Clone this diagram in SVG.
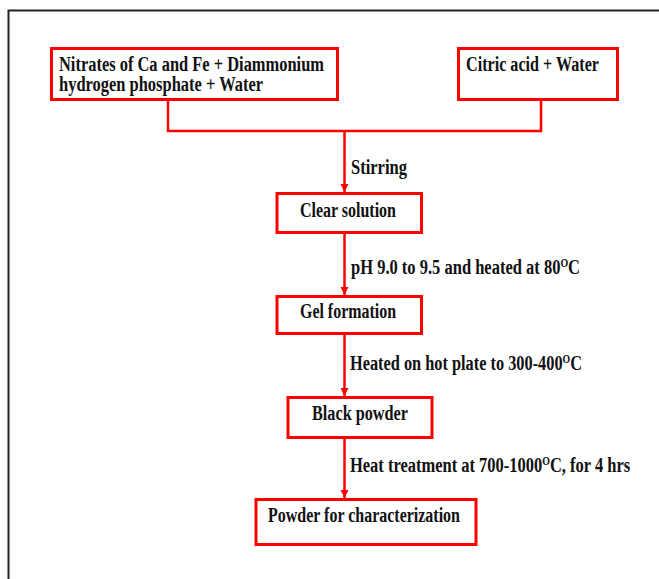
<svg xmlns="http://www.w3.org/2000/svg" width="659" height="579" viewBox="0 0 659 579">
<defs>
<style>
.box{fill:#fff;stroke:#ff0000;stroke-width:3}
.t{font-family:"Liberation Serif","Times New Roman",serif;font-weight:bold;font-size:20px;fill:#111}
.s{font-size:12px}
.c{fill:none;stroke:#ff0000;stroke-width:2.5}
</style>
<marker id="ah" markerUnits="userSpaceOnUse" markerWidth="9" markerHeight="9" refX="8" refY="4" orient="auto">
<path d="M0,0 L8,4 L0,8 z" fill="#ff0000"/>
</marker>
</defs>
<rect width="659" height="579" fill="#fff"/>
<path d="M8.5 579 V10.5 H659" fill="none" stroke="#222" stroke-width="2"/>
<g id="connectors">
<path class="c" d="M168 100 V131 H541 V100"/>
<path class="c" d="M344.5 131 V192" marker-end="url(#ah)"/>
<path class="c" d="M344.5 233 V295" marker-end="url(#ah)"/>
<path class="c" d="M344.5 333 V396" marker-end="url(#ah)"/>
<path class="c" d="M344.5 437 V498" marker-end="url(#ah)"/>
<text class="t" x="351" y="174" textLength="56" lengthAdjust="spacingAndGlyphs">Stirring</text>
<text class="t" transform="translate(351 274) scale(0.825 1)">pH 9.0 to 9.5 and heated at 80<tspan class="s" dy="-7">O</tspan><tspan dy="7">C</tspan></text>
<text class="t" transform="translate(350 370) scale(0.816 1)">Heated on hot plate to 300-400<tspan class="s" dy="-7">O</tspan><tspan dy="7">C</tspan></text>
<text class="t" transform="translate(350 472) scale(0.824 1)">Heat treatment at 700-1000<tspan class="s" dy="-7">O</tspan><tspan dy="7">C, for 4 hrs</tspan></text>
</g>
<g id="n1">
<rect class="box" x="51.5" y="48.5" width="286" height="51"/>
<text class="t" x="59" y="71" textLength="265" lengthAdjust="spacingAndGlyphs">Nitrates of Ca and Fe + Diammonium</text>
<text class="t" x="59" y="91" textLength="204" lengthAdjust="spacingAndGlyphs">hydrogen phosphate + Water</text>
</g>
<g id="n2">
<rect class="box" x="458.5" y="48.5" width="159" height="51"/>
<text class="t" x="466" y="71" textLength="133" lengthAdjust="spacingAndGlyphs">Citric acid + Water</text>
</g>
<g id="n3">
<rect class="box" x="277" y="193.5" width="144.5" height="39"/>
<text class="t" x="300" y="217" textLength="96" lengthAdjust="spacingAndGlyphs">Clear solution</text>
</g>
<g id="n4">
<rect class="box" x="277" y="296.5" width="144.5" height="37"/>
<text class="t" x="300" y="318" textLength="96" lengthAdjust="spacingAndGlyphs">Gel formation</text>
</g>
<g id="n5">
<rect class="box" x="288" y="397.5" width="144" height="40"/>
<text class="t" x="312" y="420" textLength="96" lengthAdjust="spacingAndGlyphs">Black powder</text>
</g>
<g id="n6">
<rect class="box" x="256" y="499.5" width="220" height="45"/>
<text class="t" x="268" y="522" textLength="192" lengthAdjust="spacingAndGlyphs">Powder for characterization</text>
</g>
</svg>
